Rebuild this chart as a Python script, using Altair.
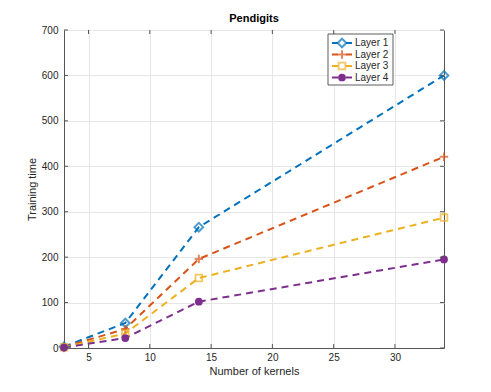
import altair as alt
import pandas as pd

kernels = [3, 8, 14, 34]
layer1 = [3, 55, 266, 600]
layer2 = [2, 42, 196, 421]
layer3 = [1.5, 32, 154, 287]
layer4 = [1, 22, 102, 195]
series_names = ["Layer 1", "Layer 2", "Layer 3", "Layer 4"]
colors = ["#0072BD", "#D95319", "#EDB120", "#7E2F8E"]
x_ticks = [5, 10, 15, 20, 25, 30]
y_ticks = [0, 100, 200, 300, 400, 500, 600, 700]

W, H = 380, 318
FONT = "Liberation Sans"

rows = []
for name, vals in zip(series_names, [layer1, layer2, layer3, layer4]):
    for k, v in zip(kernels, vals):
        rows.append({"series": name, "kernels": k, "time": v})
df = pd.DataFrame(rows)

xscale = alt.Scale(domain=[3, 34], nice=False, zero=False)
yscale = alt.Scale(domain=[0, 700], nice=False)
cscale = alt.Scale(domain=series_names, range=colors)

X = alt.X("kernels:Q", scale=xscale,
          axis=alt.Axis(values=x_ticks, title="Number of kernels", grid=True))
Y = alt.Y("time:Q", scale=yscale,
          axis=alt.Axis(values=y_ticks, title="Training time", grid=True))

lines = alt.Chart(df).mark_line(strokeDash=[7, 5], strokeWidth=2).encode(
    x=X, y=Y,
    color=alt.Color("series:N", scale=cscale, legend=None),
)

plus_path = "M-1,0H1M0,-1V1"
marker_specs = {
    "Layer 1": dict(shape="diamond", filled=False, size=75, strokeWidth=2),
    "Layer 2": dict(shape=plus_path, filled=False, size=70, strokeWidth=2),
    "Layer 3": dict(shape="square", filled=False, size=45, strokeWidth=1.8),
    "Layer 4": dict(shape="circle", filled=True, size=60, opacity=1),
}

layers = [lines]
for name, col in zip(series_names, colors):
    spec = marker_specs[name]
    layers.append(
        alt.Chart(df[df.series == name]).mark_point(color=col, **spec).encode(x=X, y=Y)
    )

# inward ticks on all four sides
xt = pd.DataFrame({"kernels": x_ticks})
yt = pd.DataFrame({"time": y_ticks})
tick_color = "#555555"
layers.append(alt.Chart(xt).mark_rule(color=tick_color, strokeWidth=1).encode(
    x=alt.X("kernels:Q", scale=xscale), y=alt.value(H), y2=alt.value(H - 4)))
layers.append(alt.Chart(xt).mark_rule(color=tick_color, strokeWidth=1).encode(
    x=alt.X("kernels:Q", scale=xscale), y=alt.value(0), y2=alt.value(4)))
layers.append(alt.Chart(yt).mark_rule(color=tick_color, strokeWidth=1).encode(
    y=alt.Y("time:Q", scale=yscale), x=alt.value(0), x2=alt.value(4)))
layers.append(alt.Chart(yt).mark_rule(color=tick_color, strokeWidth=1).encode(
    y=alt.Y("time:Q", scale=yscale), x=alt.value(W), x2=alt.value(W - 4)))

# manual legend (MATLAB-style box)
leg_df = pd.DataFrame({"series": series_names, "ly": [13, 24.5, 36, 47.5]})
LB = dict(x0=264, x1=329, y0=4, y1=55)
layers.append(alt.Chart(pd.DataFrame({"a": [0]})).mark_rect(
    fill="white", stroke="#333333", strokeWidth=0.8).encode(
    x=alt.value(LB["x0"]), x2=alt.value(LB["x1"]),
    y=alt.value(LB["y0"]), y2=alt.value(LB["y1"])))
layers.append(alt.Chart(leg_df).mark_rule(strokeWidth=2, strokeDash=[6, 8]).encode(
    x=alt.value(268), x2=alt.value(288),
    y=alt.Y("ly:Q", scale=None),
    color=alt.Color("series:N", scale=cscale, legend=None)))
for name, col in zip(series_names, colors):
    spec = marker_specs[name]
    layers.append(alt.Chart(leg_df[leg_df.series == name]).mark_point(color=col, **spec).encode(
        x=alt.value(278), y=alt.Y("ly:Q", scale=None)))
layers.append(alt.Chart(leg_df).mark_text(
    align="left", baseline="middle", font=FONT, fontSize=10, color="#262626").encode(
    x=alt.value(291), y=alt.Y("ly:Q", scale=None), text="series:N"))

chart = alt.layer(*layers).properties(
    width=W, height=H,
    title=alt.TitleParams("Pendigits", font=FONT, fontSize=11, fontWeight="bold",
                          color="#000000", offset=1),
    autosize=alt.AutoSizeParams(type="none"),
    padding={"left": 56, "top": 22, "right": 39, "bottom": 36},
).configure_view(
    stroke="#555555", strokeWidth=1
).configure_axis(
    labelFont=FONT, labelFontSize=10, labelColor="#262626",
    titleFont=FONT, titleFontSize=11, titleFontWeight="normal", titleColor="#262626",
    domainColor="#555555", gridColor="#e6e6e6", ticks=False,
).configure_axisX(labelPadding=4, titlePadding=3
).configure_axisY(labelPadding=6, titlePadding=4)

chart.save("out.html", embed_options={"renderer": "svg", "actions": False})
